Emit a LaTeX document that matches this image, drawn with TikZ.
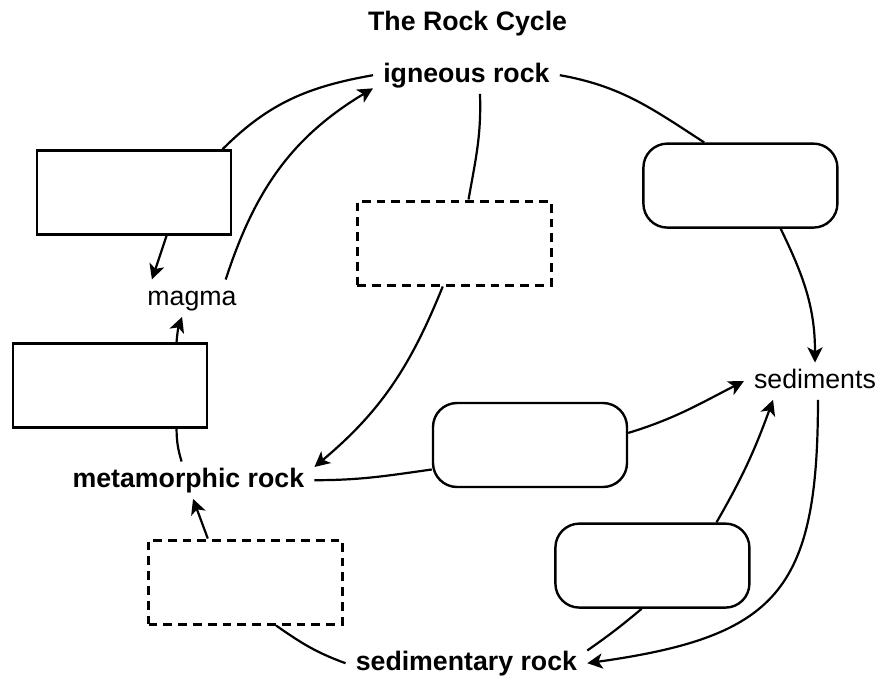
\documentclass[tikz,border=0pt]{standalone}
\usepackage{fontspec}
\setmainfont{Liberation Sans}
\usetikzlibrary{positioning}
\usetikzlibrary{arrows.meta}

\begin{document}
\begin{tikzpicture}[
    stage/.style={inner xsep=0.25cm, inner ysep=0.15cm, text height=0.48cm, text depth=0.14cm, font=\fontsize{19}{22}\selectfont},
    rock/.style={stage, font=\fontsize{19}{22}\selectfont\bfseries},
    blank/.style={draw, line width=0.06cm, minimum width=4.85cm, minimum height=2.1cm},
    roundblank/.style={blank, rounded corners=0.6cm},
    dashblank/.style={blank, line width=0.075cm, dash pattern=on 0.22cm off 0.15cm},
    link/.style={line width=0.055cm},
    flow/.style={link, -{Stealth[length=0.38cm, width=0.38cm, inset=0.1cm]}}
]
    \useasboundingbox (0,0) rectangle (22.025,-17);

    \node[rock] (title) at (11.69,-0.58) {The Rock Cycle};

    % rocks and stages
    \node[rock] (igneous) at (11.66,-1.88) {igneous rock};
    \node[stage] (magma) at (4.8,-7.455) {magma};
    \node[rock] (metamorphic) at (4.71,-12.005) {metamorphic rock};
    \node[stage] (sediments) at (20.375,-9.53) {sediments};
    \node[rock] (sedimentary) at (11.66,-16.58) {sedimentary rock};

    % empty boxes
    \node[blank] (meltA) at (3.35,-4.81) {};
    \node[blank] (meltB) at (2.75,-9.64) {};
    \node[dashblank] (heatA) at (11.36,-6.075) {};
    \node[dashblank] (heatB) at (6.14,-14.55) {};
    \node[roundblank] (weatherA) at (18.51,-4.64) {};
    \node[roundblank] (weatherB) at (13.25,-11.125) {};
    \node[roundblank] (weatherC) at (16.31,-14.14) {};

    \draw[link] (igneous.west) to[out=190,in=45] (meltA.26);
    \draw[flow] (meltA.-53) -- (magma.155);
    \draw[flow] (magma.29) to[out=72,in=211] (igneous.188);
    \draw[flow] (meltB.33) to[bend left=8] (magma.242);
    \draw[link] (metamorphic.110) to[bend left=8] (meltB.-33);

    \draw[link] (igneous.-54) to[out=-88,in=80] (heatA.72);
    \draw[flow] (heatA.-105) to[out=-112,in=40] (metamorphic.6);
    \draw[link] (metamorphic.east) to[out=0,in=188] (weatherB.194);
    \draw[flow] (weatherB.7) to[out=17,in=207] (sediments.west);

    \draw[link] (igneous.east) to[out=-10,in=147] (weatherA.130);
    \draw[flow] (weatherA.-47) to[out=-64,in=90] (sediments.north);
    \draw[flow] (weatherC.34) to[out=60,in=-110] (sediments.204);
    \draw[link] (sedimentary.6) to[out=35,in=-140] (weatherC.256);
    \draw[flow] (sediments.-81) to[out=-90,in=8,looseness=1.4] (sedimentary.east);

    \draw[link] (sedimentary.west) to[out=160,in=-35] (heatB.-55);
    \draw[flow] (heatB.131) -- (metamorphic.-76);
\end{tikzpicture}
\end{document}
